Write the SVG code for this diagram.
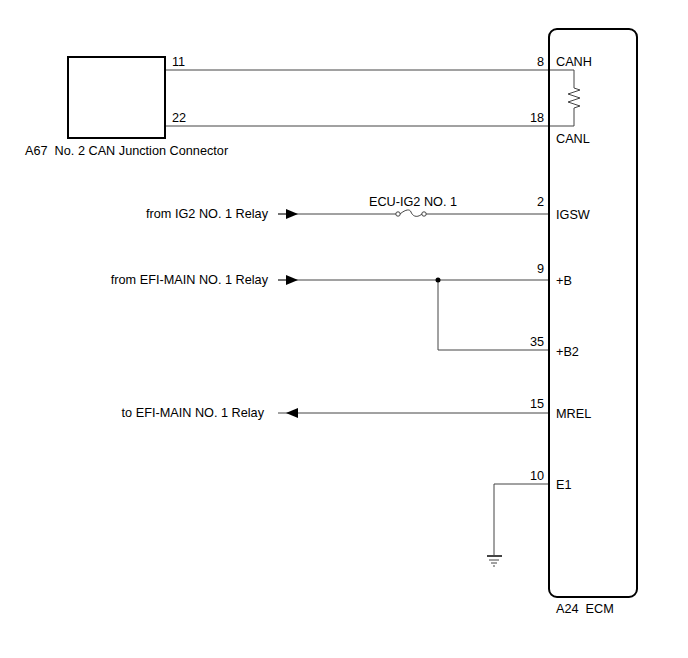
<svg xmlns="http://www.w3.org/2000/svg" width="688" height="658" viewBox="0 0 688 658">
<style>
text{font-family:"Liberation Sans",Arial,sans-serif;font-size:12.7px;fill:#000;white-space:pre}
.r{text-anchor:end}
.w{fill:none;stroke:#444;stroke-width:1}
.box{fill:none;stroke:#000;stroke-width:2}
</style>
<defs>
<marker id="arr" viewBox="0 0 12 10" refX="6" refY="5" markerWidth="12" markerHeight="10" markerUnits="userSpaceOnUse" orient="auto">
<path d="M0,0 L12,5 L0,10 Z" fill="#000"/>
</marker>
</defs>
<rect width="688" height="658" fill="#fff"/>
<g id="connectors">
<path class="w" d="M166,70 H574 V88 L580,90 L568,94 L580,98 L568,102 L580,106 L574,108 V126 H166"/>
<line class="w" x1="278" y1="214" x2="396" y2="214"/>
<path class="w" d="M400,214 C406,209 410,209 411,212 C412,215 416,219 422,214" />
<circle cx="398" cy="214" r="2.2" fill="#fff" stroke="#444" stroke-width="1"/>
<circle cx="424" cy="214" r="2.2" fill="#fff" stroke="#444" stroke-width="1"/>
<line class="w" x1="426" y1="214" x2="549" y2="214"/>
<line class="w" x1="278" y1="214" x2="292" y2="214" marker-end="url(#arr)"/>
<line class="w" x1="278" y1="280" x2="549" y2="280"/>
<line class="w" x1="278" y1="280" x2="292" y2="280" marker-end="url(#arr)"/>
<path class="w" d="M438,280 V350 H549"/>
<circle cx="438" cy="280" r="2.5" fill="#000"/>
<line class="w" x1="549" y1="413" x2="278" y2="413"/>
<line class="w" x1="298" y1="413" x2="292" y2="413" marker-end="url(#arr)"/>
<path class="w" d="M549,484 H494 V556"/>
<g stroke="#444">
<line x1="487" y1="556" x2="502" y2="556" stroke-width="2"/>
<line x1="489" y1="560" x2="499" y2="560" stroke-width="1"/>
<line x1="491" y1="563" x2="497" y2="563" stroke-width="1"/>
<line x1="493" y1="566" x2="495" y2="566" stroke-width="1"/>
</g>
</g>
<g id="A67">
<rect class="box" x="68" y="57" width="97" height="81" fill="#fff"/>
<text x="172" y="66">11</text>
<text x="172" y="122">22</text>
<text x="25" y="155">A67  No. 2 CAN Junction Connector</text>
</g>
<g id="ECM">
<rect class="box" x="549" y="29" width="88" height="568" rx="8"/>
<text class="r" x="544" y="66">8</text>
<text x="556" y="66">CANH</text>
<text class="r" x="544" y="122">18</text>
<text x="556" y="143">CANL</text>
<text class="r" x="544" y="206">2</text>
<text x="556" y="219">IGSW</text>
<text class="r" x="544" y="273">9</text>
<text x="556" y="285">+B</text>
<text class="r" x="544" y="346">35</text>
<text x="556" y="356">+B2</text>
<text class="r" x="544" y="408">15</text>
<text x="556" y="418">MREL</text>
<text class="r" x="544" y="480">10</text>
<text x="556" y="489">E1</text>
<text x="556" y="613">A24  ECM</text>
</g>
<g id="labels">
<text x="413" y="206" text-anchor="middle">ECU-IG2 NO. 1</text>
<text class="r" x="268" y="218">from IG2 NO. 1 Relay</text>
<text class="r" x="268" y="284">from EFI-MAIN NO. 1 Relay</text>
<text class="r" x="264" y="417">to EFI-MAIN NO. 1 Relay</text>
</g>
</svg>
